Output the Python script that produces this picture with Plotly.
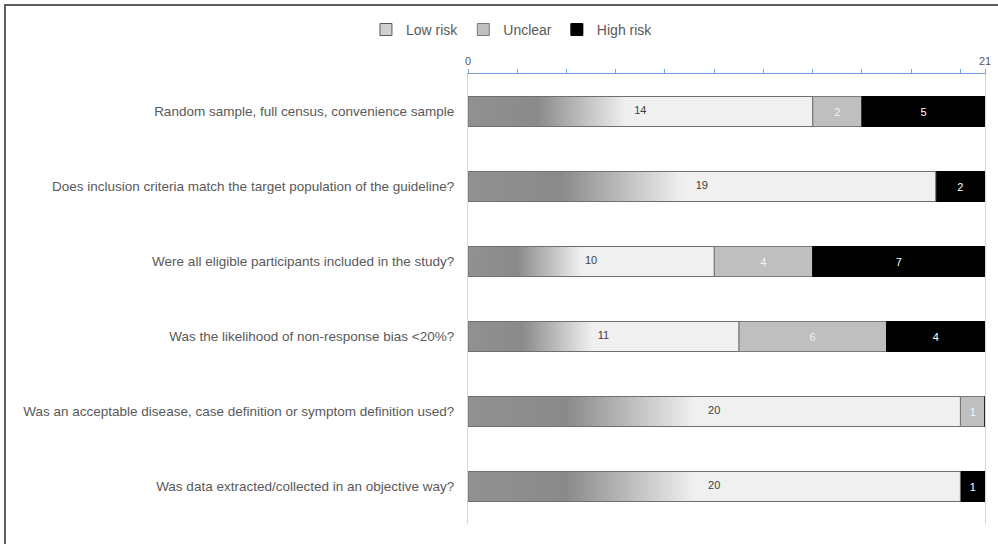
import plotly.graph_objects as go

categories = [
    "Random sample, full census, convenience sample",
    "Does inclusion criteria match the target population of the guideline?",
    "Were all eligible participants included in the study?",
    "Was the likelihood of non-response bias <20%?",
    "Was an acceptable disease, case definition or symptom definition used?",
    "Was data extracted/collected in an objective way?",
]
low_risk = [14, 19, 10, 11, 20, 20]
unclear = [2, 0, 4, 6, 1, 0]
high_risk = [5, 2, 7, 4, 0, 1]
x_max = 21
x_ticks = list(range(0, 21, 2)) + [21]
x_ticktext = ["0"] + [""] * 10 + ["21"]

FONT = "Liberation Sans"
GRAY_TXT = "#595959"
HALF = 0.2
idx = list(range(len(categories)))

fig = go.Figure()

# legend entry for Low risk (no data drawn)
fig.add_trace(go.Bar(
    x=[None], y=[None], orientation="h", name="Low risk",
    marker=dict(color="#d0d0d0", line=dict(color="#595959", width=1)),
    legendgroup="low", showlegend=True,
))

# Low risk: gradient-filled bars (scatter polygons built from the data values)
for i, v in enumerate(low_risk):
    fig.add_trace(go.Scatter(
        x=[0, v, v, 0, 0],
        y=[i - HALF, i - HALF, i + HALF, i + HALF, i - HALF],
        mode="lines", fill="toself",
        fillgradient=dict(type="horizontal",
                          colorscale=[[0, "#919191"], [0.2, "#8a8a8a"],
                                      [0.46, "#f0f0f0"], [1, "#f0f0f0"]]),
        line=dict(color="#6f6f6f", width=1),
        name="Low risk", legendgroup="low", showlegend=False,
        hoverinfo="skip",
    ))

fig.add_trace(go.Bar(
    y=idx, x=unclear, base=low_risk, orientation="h", width=2 * HALF,
    marker=dict(color="#bfbfbf", line=dict(color="#7a7a7a", width=1)),
    name="Unclear",
    text=[str(u) if u else "" for u in unclear], textposition="inside",
    insidetextanchor="middle",
    textfont=dict(color="#f2f2f2", size=11, family=FONT),
))
fig.add_trace(go.Bar(
    y=idx, x=high_risk, base=[l + u for l, u in zip(low_risk, unclear)],
    orientation="h", width=2 * HALF,
    marker=dict(color="#000000", line=dict(color="#000000", width=1)),
    name="High risk",
    text=[str(h) if h else "" for h in high_risk], textposition="inside",
    insidetextanchor="middle",
    textfont=dict(color="#ffffff", size=11, family=FONT),
))
# Low risk value labels
fig.add_trace(go.Scatter(
    x=[v / 2 for v in low_risk], y=idx, mode="text",
    text=[str(v) for v in low_risk],
    textfont=dict(color="#404040", size=11, family=FONT),
    showlegend=False, hoverinfo="skip",
))

fig.update_layout(
    width=998, height=544,
    margin=dict(l=468, r=13, t=74, b=20, autoexpand=False),
    plot_bgcolor="white", paper_bgcolor="white",
    barmode="overlay",
    font=dict(family=FONT, color=GRAY_TXT, size=13),
    legend=dict(orientation="h", x=0.085, xanchor="center", y=1.098,
                yanchor="middle", font=dict(size=14, color=GRAY_TXT),
                traceorder="normal", itemwidth=30),
    xaxis=dict(side="top", range=[0, x_max], tickvals=x_ticks,
               ticktext=x_ticktext, ticks="outside", ticklen=4,
               tickcolor="#7ba0e0", showline=True, linecolor="#7ba0e0",
               linewidth=1, showgrid=False, zeroline=False, automargin=False,
               tickfont=dict(size=11, color=GRAY_TXT)),
    yaxis=dict(range=[len(categories) - 0.5, -0.5], tickvals=idx,
               ticktext=categories, ticks="outside", ticklen=10,
               tickcolor="rgba(0,0,0,0)", showline=True, mirror=True,
               linecolor="#d9d9d9", linewidth=1, showgrid=False,
               zeroline=False, automargin=False,
               tickfont=dict(size=13.5, color=GRAY_TXT)),
    shapes=[dict(type="rect", xref="paper", yref="paper",
                 x0=(5 - 468) / 517, x1=(1010 - 468) / 517,
                 y0=-0.2, y1=1 + (74 - 5) / 450,
                 line=dict(color="#5f5f5f", width=2), layer="above")],
)

fig.write_html("out.html")
